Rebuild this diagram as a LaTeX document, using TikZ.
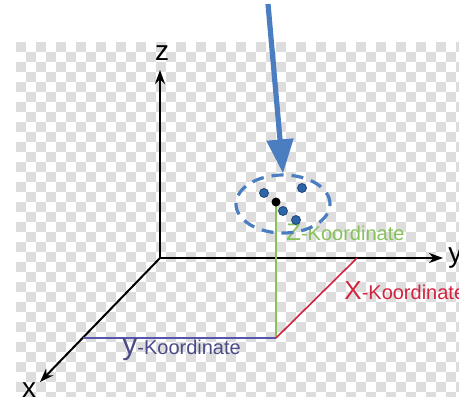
\documentclass[tikz,border=0pt]{standalone}
\usepackage{fontspec}
\setmainfont{Liberation Sans}
\usetikzlibrary{arrows.meta, positioning, calc, shapes.geometric}
\definecolor{KoordBlue}{HTML}{4A7EC1}
\definecolor{KoordDot}{HTML}{2E64A8}
\definecolor{KoordGreen}{HTML}{86C15A}
\definecolor{KoordRed}{HTML}{D2233F}
\definecolor{KoordPurple}{HTML}{5656AC}
\definecolor{KoordLabel}{HTML}{4B4B88}
\definecolor{CheckGray}{HTML}{DDDDDD}
\tikzset{
    % Axis styles
    axisline/.style={
        ->,
        >={Stealth[length=7pt,width=5pt]},
        line width=1pt,
        black
    },
    axislabel/.style={
        inner sep=0pt,
        font=\fontsize{14}{16}\selectfont
    },
    % Coordinate lines
    coordline/.style={
        line width=#1
    },
    coordline/.default=0.8pt,
    koordlabel/.style={
        inner sep=0pt,
        anchor=west,
        font=\fontsize{10}{12}\selectfont
    },
    % Point cloud
    clouddot/.style={
        circle,
        fill=KoordDot,
        draw=KoordDot!70!black,
        line width=0.4pt,
        inner sep=0pt,
        minimum size=4.5pt
    },
    pointdot/.style={
        circle,
        fill=black,
        inner sep=0pt,
        minimum size=4.5pt
    },
    cloudring/.style={
        ellipse,
        draw=KoordBlue,
        line width=1.6pt,
        dash pattern=on 6pt off 4pt,
        minimum width=47pt,
        minimum height=29pt
    },
    pointer/.style={
        -{Triangle[length=17pt,width=13pt]},
        line width=2.6pt,
        KoordBlue
    }
}
\begin{document}
\begin{tikzpicture}[x=0.5pt,y=-0.5pt]
    \useasboundingbox (0,0) rectangle (459,396);

    % Checker background
    \begin{scope}
        \clip (16,42) rectangle (459,396);
        \foreach \j in {0,...,35}{
            \pgfmathtruncatemacro\chkoff{mod(\j,2)*10}
            \foreach \i in {0,20,...,440}{
                \fill[CheckGray] (16+\i+\chkoff,42+10*\j) rectangle ++(10,10);
            }
        }
    \end{scope}

    % Axes
    \coordinate (O) at (160,258);
    \coordinate (zEnd) at (160,70);
    \coordinate (yEnd) at (443,258);
    \coordinate (xEnd) at (40,382);
    \draw[axisline] (O) -- (zEnd);
    \draw[axisline] (O) -- (yEnd);
    \draw[axisline] (O) -- (xEnd);
    \node[axislabel] (zLab) at (162,53) {z};
    \node[axislabel,anchor=west] (yLab) at (448,258) {y};
    \node[axislabel] (xLab) at (29,390) {x};

    % Coordinates of the point
    \coordinate (P) at (276,202);
    \coordinate (foot) at (276,338);
    \coordinate (yStart) at (83,338);
    \coordinate (xOnY) at (357,258);
    \draw[coordline, KoordGreen] (P) -- (foot);
    \draw[coordline=1.1pt, KoordPurple] (yStart) -- (foot);
    \draw[coordline, KoordRed] (foot) -- (xOnY);

    % Labels
    \node[koordlabel, KoordGreen] (zKoord) at (286,232)
        {\fontsize{12}{12}\selectfont Z\fontsize{10}{12}\selectfont-Koordinate};
    \node[koordlabel, KoordRed] (xKoord) at (344,291)
        {\fontsize{13}{13}\selectfont X\fontsize{10}{12}\selectfont-Koordinate};
    \node[koordlabel, KoordLabel] (yKoord) at (122,350)
        {\fontsize{15}{15}\selectfont y\fontsize{10}{12}\selectfont-Koordinate};

    % Point cloud
    \node[cloudring] (ring) at (283,204) {};
    \node[pointdot] (p0) at (P) {};
    \node[clouddot] (p1) at (264,193) {};
    \node[clouddot] (p2) at (302,188) {};
    \node[clouddot] (p3) at (283,211) {};
    \node[clouddot] (p4) at (296,220) {};

    % Pointer
    \coordinate (arrowTop) at (268,4);
    \draw[pointer] (arrowTop) -- (ring.north);
\end{tikzpicture}
\end{document}
